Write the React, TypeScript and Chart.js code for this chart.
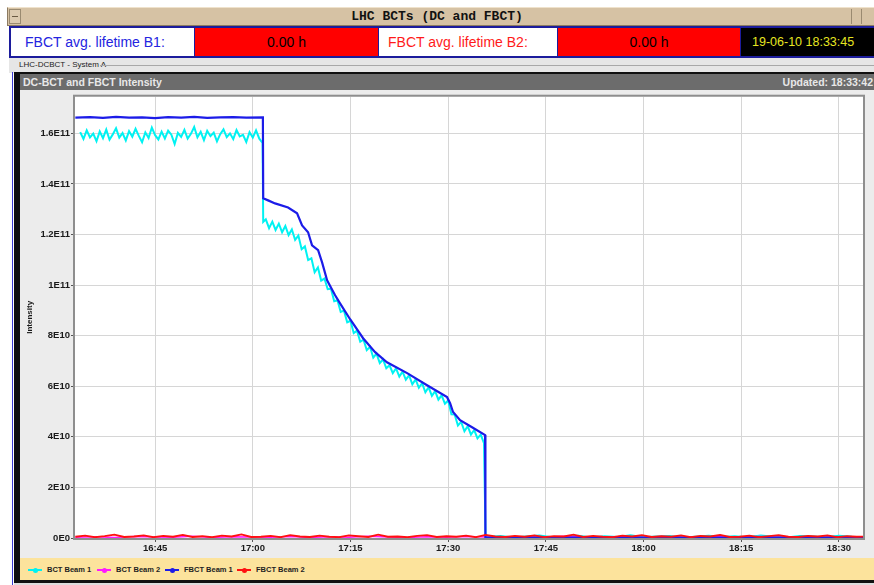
import React, { useEffect, useRef } from 'react';
import { Chart, registerables } from 'chart.js';

Chart.register(...registerables);

// Time axis: minutes after 16:00
const X_MIN = 32.7; // 16:32:42
const X_MAX = 153.7; // 18:33:42
const timeTicks = [45, 60, 75, 90, 105, 120, 135, 150];
const intensityTicks = [0, 2e10, 4e10, 6e10, 8e10, 1e11, 1.2e11, 1.4e11, 1.6e11];
const Y_MAX = 1.745e11;
const UNIT = 1e9; // series values are given in units of 1E9 charges

const seriesNames = ['BCT Beam 1', 'BCT Beam 2', 'FBCT Beam 1', 'FBCT Beam 2'];
const seriesColors = ['#00f2f2', '#ff1aff', '#1c1ce8', '#ff1010'];

// FBCT Beam 1 (blue) - explicit samples
const fbctB1Times = [32.75, 35, 37, 39, 41, 43, 45, 47, 49, 51, 53, 55, 57, 59, 61.55, 61.6,
  62.35, 63.42, 65.42, 66.8, 67.57, 68.49, 69.1, 70.03, 70.64, 71.41,
  72.64, 73.4, 74.94, 76.94, 78.78, 80.6, 83.7, 86.76, 89.83, 90.3,
  90.75, 91.83, 93.67, 95.67, 95.72, 153.7];
const fbctB1Values = [166.2, 166.4, 166.1, 166.5, 166.2, 166.3, 166.0, 166.4, 166.2, 166.5, 166.1, 166.3, 166.4, 166.2, 166.3, 134.3,
  133.5, 132.3, 130.7, 128.4, 123.6, 120.9, 115.7, 113.8, 109, 101.9,
  96, 92.8, 86.5, 79, 73.5, 69.5, 65.2, 60.4, 55.7, 53.3,
  49.8, 46.6, 43.8, 40.7, 0.2, 0.2];

// BCT Beam 1 (cyan) - sampled every 0.5 min
const bctB1FlatStart = 33.5;
const bctB1FlatStep = 0.5;
const bctB1Flat = [160.5, 157.8, 161.2, 158.4, 159.9, 156.9, 160.8, 158.1, 161.5, 157.5,
  159.6, 162.0, 158.3, 160.1, 157.2, 160.9, 158.7, 161.8, 159.0, 156.5,
  160.4, 158.2, 162.3, 159.3, 157.6, 160.7, 158.0, 161.1, 159.5, 155.8,
  160.2, 158.6, 161.4, 157.9, 159.8, 162.5, 158.4, 160.6, 157.3, 161.0,
  158.9, 160.3, 156.8, 159.7, 161.6, 158.5, 160.0, 157.7, 161.3, 158.8,
  159.4, 156.6, 160.5, 158.3, 161.2, 157.9, 156.2];
const bctB1DropTime = 61.6;
const bctB1DropValue = 125.0;
const bctB1DecayStart = 62.0;
const bctB1DecayStep = 0.5;
const bctB1Decay = [126.0, 122.5, 125.1, 121.8, 124.3, 120.9, 123.4, 119.8, 122.0, 117.9,
  119.6, 114.2, 115.3, 109.9, 110.6, 105.1, 107.0, 101.8, 102.6, 98.4,
  98.6, 93.6, 94.0, 89.4, 89.9, 85.3, 85.9, 81.0, 82.0, 77.6,
  78.4, 74.3, 75.6, 71.3, 72.9, 69.2, 70.6, 67.1, 68.3, 65.2,
  67.1, 63.8, 65.8, 62.6, 64.3, 60.8, 62.7, 59.4, 61.2, 57.6,
  59.6, 56.2, 58.1, 54.7, 56.4, 53.1, 54.4, 48.9, 48.8, 44.5,
  45.9, 42.2, 44.2, 40.9, 42.7, 39.4, 40.9, 37.5];
const bctB1EndTime = 95.75;
const bctB1TailStart = 96;
const bctB1TailStep = 2;
const bctB1Tail = [0.4, 0.8, 0.2, 0.6, 1.0, 0.3, 0.5, 0.9, 0.2, 0.7, 0.4, 1.1, 0.3, 0.6, 0.8,
  0.2, 0.5, 0.9, 0.4, 0.7, 0.3, 1.0, 0.5, 0.2, 0.8, 0.6, 0.3, 0.9, 0.5];

// BCT Beam 2 (magenta) - sampled every 3 min
const bctB2Start = 32.75;
const bctB2Step = 3;
const bctB2Values = [0.3, 0.5, 0.2, 0.6, 0.4, 0.3, 0.7, 0.2, 0.5, 0.4,
  0.3, 0.6, 0.2, 0.5, 0.3, 0.7, 0.4, 0.2, 0.5, 0.3,
  0.6, 0.4, 0.2, 0.5, 0.3, 0.7, 0.4, 0.3, 0.5, 0.2,
  0.6, 0.3, 0.4, 0.5, 0.2, 0.6, 0.3, 0.4, 0.2, 0.5, 0.3];

// FBCT Beam 2 (red) - sampled every 1.5 min
const fbctB2Start = 32.75;
const fbctB2Step = 1.5;
const fbctB2Values = [0.5, 0.9, 0.3, 0.7, 1.3, 0.4, 0.6, 1.0, 0.3, 0.8,
  0.5, 1.2, 0.4, 0.7, 0.3, 0.9, 0.6, 1.4, 0.4, 0.5,
  0.8, 0.3, 1.1, 0.6, 0.4, 0.9, 0.5, 0.3, 1.0, 0.7,
  0.4, 1.3, 0.5, 0.6, 0.3, 0.8, 1.1, 0.4, 0.7, 0.5,
  0.9, 0.3, 1.2, 0.6, 0.4, 0.8, 0.5, 1.0, 0.3, 0.7,
  0.6, 1.3, 0.4, 0.8, 0.5, 0.3, 0.9, 0.6, 1.1, 0.4,
  0.7, 0.5, 1.0, 0.3, 0.8, 0.6, 1.2, 0.4, 0.5, 0.9,
  0.3, 0.7, 1.1, 0.5, 0.4, 0.8, 0.6, 1.0, 0.3, 0.7, 0.5, 0.6];

type Pt = { x: number; y: number };
const sampled = (start: number, step: number, vals: number[]): Pt[] =>
  vals.map((v, i) => ({ x: start + i * step, y: v * UNIT }));
const paired = (ts: number[], vals: number[]): Pt[] => ts.map((t, i) => ({ x: t, y: vals[i] * UNIT }));

const fmtTime = (v: number) => {
  const h = 16 + Math.floor(v / 60);
  const m = Math.round(v % 60);
  return `${h}:${m < 10 ? '0' + m : m}`;
};
const fmtSci = (v: number) => {
  if (v === 0) return '0E0';
  const e = Math.floor(Math.log10(v) + 1e-9);
  const m = v / Math.pow(10, e);
  return `${parseFloat(m.toFixed(2))}E${e}`;
};

const plotFrame = {
  id: 'plotFrame',
  beforeDraw(chart: any) {
    const { ctx, chartArea } = chart;
    const { left, top, right, bottom } = chartArea;
    ctx.save();
    ctx.fillStyle = '#ffffff';
    ctx.fillRect(left, top, right - left, bottom - top);
    ctx.restore();
  },
  afterDraw(chart: any) {
    const { ctx, chartArea } = chart;
    const { left, top, right, bottom } = chartArea;
    ctx.save();
    ctx.strokeStyle = '#8e8e8e';
    ctx.lineWidth = 2;
    ctx.strokeRect(left - 1, top - 1, right - left + 2, bottom - top + 2);
    ctx.restore();
  },
};

const tickFont = { family: 'Liberation Sans', weight: 'bold' as const, size: 9.5 };

function IntensityChart() {
  const ref = useRef<HTMLCanvasElement | null>(null);
  useEffect(() => {
    if (!ref.current) return;
    const cyan = [
      ...sampled(bctB1FlatStart, bctB1FlatStep, bctB1Flat),
      { x: bctB1DropTime, y: bctB1DropValue * UNIT },
      ...sampled(bctB1DecayStart, bctB1DecayStep, bctB1Decay),
      { x: bctB1EndTime, y: bctB1Tail[0] * UNIT },
      ...sampled(bctB1TailStart, bctB1TailStep, bctB1Tail),
    ];
    const data = [
      cyan,
      sampled(bctB2Start, bctB2Step, bctB2Values),
      paired(fbctB1Times, fbctB1Values),
      sampled(fbctB2Start, fbctB2Step, fbctB2Values),
    ];
    const widths = [2, 1.5, 2.2, 1.8];
    const orders = [3, 2, 1, 0];
    const chart = new Chart(ref.current, {
      type: 'line',
      data: {
        datasets: seriesNames.map((name, i) => ({
          label: name,
          data: data[i],
          borderColor: seriesColors[i],
          backgroundColor: seriesColors[i],
          borderWidth: widths[i],
          pointRadius: 0,
          tension: 0,
          fill: false,
          order: orders[i],
        })),
      },
      options: {
        animation: false,
        responsive: false,
        devicePixelRatio: 1,
        layout: { padding: { left: 0, right: 11, top: 6, bottom: 0 } },
        plugins: { legend: { display: false }, tooltip: { enabled: false } },
        scales: {
          x: {
            type: 'linear',
            min: X_MIN,
            max: X_MAX,
            afterBuildTicks: (s: any) => {
              s.ticks = timeTicks.map((v) => ({ value: v }));
            },
            afterFit: (s: any) => {
              s.height = 20;
            },
            ticks: {
              autoSkip: false,
              maxRotation: 0,
              padding: 1,
              color: '#1a1a1a',
              font: tickFont,
              callback: (v: any) => fmtTime(Number(v)),
            },
            grid: { color: '#d6d6d6', lineWidth: 1, tickColor: '#555555', tickLength: 4 },
            border: { display: false },
          },
          y: {
            type: 'linear',
            min: 0,
            max: Y_MAX,
            afterBuildTicks: (s: any) => {
              s.ticks = intensityTicks.map((v) => ({ value: v }));
            },
            afterFit: (s: any) => {
              s.width = 55;
            },
            ticks: {
              autoSkip: false,
              padding: 1,
              color: '#1a1a1a',
              font: tickFont,
              callback: (v: any) => fmtSci(Number(v)),
            },
            grid: { color: '#d6d6d6', lineWidth: 1, tickColor: '#555555', tickLength: 4 },
            border: { display: false },
            title: {
              display: true,
              text: 'Intensity',
              color: '#1a1a1a',
              font: { family: 'Liberation Sans', weight: 'bold', size: 8 },
              padding: { top: 5, bottom: 0 },
            },
          },
        },
      } as any,
      plugins: [plotFrame],
    });
    return () => chart.destroy();
  }, []);
  return <canvas ref={ref} width={854} height={468} style={{ display: 'block', width: 854, height: 468 }} />;
}

const abs = (l: number, t: number, w: number, h: number, extra: React.CSSProperties = {}): React.CSSProperties => ({
  position: 'absolute',
  left: l,
  top: t,
  width: w,
  height: h,
  boxSizing: 'border-box',
  ...extra,
});

const legendX = [28, 97, 165, 237];

export default function App() {
  return (
    <div style={abs(0, 0, 874, 585, { background: '#ffffff', overflow: 'hidden', fontFamily: 'Liberation Sans' })}>
      {/* window title bar */}
      <div style={abs(7, 7, 870, 19, { background: '#d6c2a4', borderTop: '1px solid #efe2cc', borderBottom: '1px solid #8c7b62', borderLeft: '1px solid #8c7b62' })} />
      <div style={abs(9, 9, 12, 15, { border: '1px solid #9a8a70', background: '#dccab0' })} />
      <div style={abs(12, 16, 6, 1, { background: '#6a5a44' })} />
      <div style={abs(851, 9, 11, 15, { borderLeft: '1px solid #9a8a70', borderRight: '1px solid #9a8a70' })} />
      <div style={abs(0, 7, 874, 19, { textAlign: 'center', lineHeight: '19px', fontFamily: 'Liberation Mono', fontWeight: 'bold', fontSize: 13, color: '#111' })}>
        LHC BCTs (DC and FBCT)
      </div>

      {/* status row */}
      <div style={abs(9, 26, 870, 32, { background: '#1c1c9c' })} />
      <div style={abs(11, 28, 183, 28, { background: '#ffffff', color: '#2424e0', fontSize: 14, lineHeight: '28px', paddingLeft: 14 })}>
        FBCT avg. lifetime B1:
      </div>
      <div style={abs(195, 28, 183, 28, { background: '#ff0000', color: '#000', fontSize: 14, lineHeight: '28px', textAlign: 'center' })}>
        0.00 h
      </div>
      <div style={abs(379, 28, 178, 28, { background: '#ffffff', color: '#ff1a1a', fontSize: 14, lineHeight: '28px', paddingLeft: 9 })}>
        FBCT avg. lifetime B2:
      </div>
      <div style={abs(558, 28, 182, 28, { background: '#ff0000', color: '#000', fontSize: 14, lineHeight: '28px', textAlign: 'center' })}>
        0.00 h
      </div>
      <div style={abs(741, 28, 140, 28, { background: '#000000', color: '#e6e620', fontSize: 12.5, lineHeight: '28px', paddingLeft: 11, whiteSpace: 'nowrap' })}>
        19-06-10 18:33:45
      </div>

      {/* group label */}
      <div style={abs(9, 58, 870, 15, { background: '#e6e6e6' })} />
      <div style={abs(19, 58, 120, 14, { fontSize: 8, lineHeight: '14px', color: '#222' })}>LHC-DCBCT - System A</div>
      <div style={abs(100, 65, 774, 1, { background: '#a8a8a8' })} />

      {/* panel borders */}
      <div style={abs(12, 72, 1, 513, { background: '#3a3ad0' })} />
      <div style={abs(14, 72, 6, 513, { background: '#101010' })} />
      <div style={abs(14, 72, 860, 2, { background: '#101010' })} />

      {/* panel header */}
      <div style={abs(20, 74, 854, 16, { background: '#6c6c6c' })} />
      <div style={abs(23, 74, 300, 16, { color: '#e8e8e8', fontWeight: 'bold', fontSize: 10.5, lineHeight: '16px' })}>
        DC-BCT and FBCT Intensity
      </div>
      <div style={abs(700, 74, 173, 16, { color: '#e8e8e8', fontWeight: 'bold', fontSize: 10.5, lineHeight: '16px', textAlign: 'right' })}>
        Updated: 18:33:42
      </div>

      {/* chart */}
      <div style={abs(20, 90, 854, 468, { background: '#ececec' })}>
        <IntensityChart />
      </div>

      {/* legend */}
      <div style={abs(20, 558, 854, 22, { background: '#fce39c' })}>
        {seriesNames.map((name, i) => (
          <div key={name} style={abs(legendX[i] - 20, 0, 72, 22)}>
            <div style={abs(0, 11, 14, 2, { background: seriesColors[i] })} />
            <div style={abs(5, 9.5, 5, 5, { background: seriesColors[i], borderRadius: 3 })} />
            <div style={abs(19, 0, 60, 22, { fontSize: 7.5, fontWeight: 'bold', lineHeight: '23px', color: '#222', whiteSpace: 'nowrap' })}>
              {name}
            </div>
          </div>
        ))}
      </div>
      <div style={abs(14, 580, 860, 3, { background: '#101010' })} />
      <div style={abs(14, 583, 860, 2, { background: '#dcdcdc' })} />
    </div>
  );
}
